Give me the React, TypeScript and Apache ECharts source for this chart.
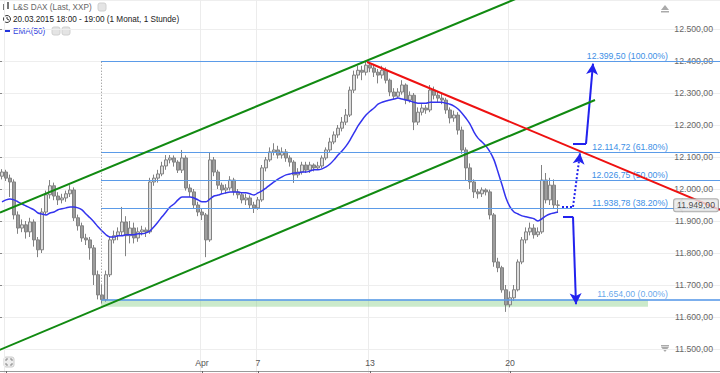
import React, { useEffect, useRef } from "react";
import * as echarts from "echarts";

// ---------- axis / time structure ----------
const tradingDays = ["20.03", "23.03", "24.03", "25.03", "26.03", "27.03", "30.03", "31.03", "01.04", "02.04", "07.04", "08.04", "09.04", "10.04", "13.04", "14.04", "15.04", "16.04", "17.04", "20.04", "21.04", "22.04", "23.04", "24.04", "27.04", "28.04", "29.04"];
const hourSlots = ["08:00", "10:00", "12:00", "14:00", "16:00", "18:00", "20:00"];
const firstDaySlots = ["20:00"];
const slotCount = 180;
const dayLabels: Record<string, string> = { "23.03 08:00": "", "01.04 08:00": "Apr", "07.04 08:00": "7", "13.04 08:00": "13", "20.04 08:00": "20" };
const yRange = { min: 11400, max: 12590.6, step: 100 };

// ---------- candles (2h) ----------
const opens = [12040, 12053, 12034, 12022, 11919, 11878, 11888, 11866, 11897, 11841, 11810, 11928, 11982, 12010, 11978, 11966, 11972, 11985, 11997, 11910, 11885, 11847, 11841, 11816, 11732, 11669, 11654, 11732, 11841, 11854, 11866, 11897, 11854, 11878, 11847, 11866, 11872, 11866, 12022, 12034, 12047, 12072, 12091, 12097, 12084, 12059, 12097, 12003, 11991, 11950, 11928, 11919, 11841, 12091, 12053, 12012, 11997, 12003, 12028, 11991, 11982, 11966, 11972, 11950, 11941, 11966, 12066, 12091, 12116, 12122, 12106, 12116, 12097, 12084, 12044, 12053, 12075, 12059, 12075, 12066, 12072, 12097, 12122, 12147, 12169, 12190, 12209, 12231, 12309, 12356, 12371, 12365, 12387, 12378, 12365, 12356, 12371, 12340, 12303, 12290, 12303, 12325, 12278, 12293, 12209, 12240, 12253, 12247, 12309, 12293, 12284, 12278, 12247, 12222, 12231, 12184, 12122, 12066, 12022, 11991, 11985, 11997, 11991, 11919, 11772, 11754, 11685, 11638, 11660, 11685, 11772, 11841, 11866, 11878, 11857, 11866, 12028, 11966, 12012, 11950];
const closes = [12053, 12034, 12022, 11919, 11878, 11888, 11866, 11897, 11841, 11810, 11928, 11982, 12010, 11978, 11966, 11972, 11985, 11997, 11910, 11885, 11847, 11841, 11816, 11732, 11669, 11654, 11732, 11841, 11854, 11866, 11897, 11854, 11878, 11847, 11866, 11872, 11866, 12022, 12034, 12047, 12072, 12091, 12097, 12084, 12059, 12097, 12003, 11991, 11950, 11928, 11919, 11841, 12091, 12053, 12012, 11997, 12003, 12028, 11991, 11982, 11966, 11972, 11950, 11941, 11966, 12066, 12091, 12116, 12122, 12106, 12116, 12097, 12084, 12044, 12053, 12075, 12059, 12075, 12066, 12072, 12097, 12122, 12147, 12169, 12190, 12209, 12231, 12309, 12356, 12371, 12365, 12387, 12378, 12365, 12356, 12371, 12340, 12303, 12290, 12303, 12325, 12278, 12293, 12209, 12240, 12253, 12247, 12309, 12293, 12284, 12278, 12247, 12222, 12231, 12184, 12122, 12066, 12022, 11991, 11985, 11997, 11991, 11919, 11772, 11754, 11685, 11638, 11660, 11685, 11772, 11841, 11866, 11878, 11857, 11866, 12028, 11966, 12012, 11950, 11949];
const lows = [12030, 12025, 11975, 11905, 11860, 11865, 11845, 11850, 11820, 11787, 11800, 11920, 11970, 11965, 11950, 11955, 11960, 11975, 11900, 11870, 11835, 11825, 11779, 11700, 11655, 11642, 11648, 11725, 11830, 11840, 11855, 11790, 11830, 11830, 11835, 11855, 11850, 11860, 12010, 12020, 12040, 12060, 12080, 12070, 12050, 12050, 11995, 11975, 11940, 11915, 11903, 11787, 11835, 12040, 12000, 11985, 11985, 11995, 11980, 11970, 11955, 11950, 11940, 11925, 11935, 11960, 12055, 12085, 12105, 12095, 12095, 12085, 12070, 12019, 12035, 12045, 12050, 12050, 12055, 12060, 12065, 12090, 12115, 12140, 12160, 12180, 12200, 12225, 12300, 12345, 12340, 12355, 12365, 12350, 12330, 12345, 12330, 12290, 12280, 12285, 12295, 12265, 12270, 12184, 12200, 12230, 12235, 12240, 12280, 12270, 12265, 12235, 12205, 12210, 12170, 12110, 12025, 12000, 11972, 11970, 11975, 11980, 11905, 11757, 11740, 11676, 11616, 11630, 11650, 11680, 11765, 11830, 11855, 11845, 11850, 11860, 11955, 11950, 11940, 11925];
const highs = [12062, 12060, 12045, 12030, 11930, 11905, 11900, 11910, 11905, 11850, 11940, 11995, 12028, 12020, 11990, 11985, 11995, 12012, 12005, 11920, 11895, 11860, 11850, 11825, 11745, 11700, 11745, 11850, 11870, 11880, 11944, 11915, 11900, 11895, 11880, 11885, 11880, 12035, 12045, 12060, 12085, 12106, 12106, 12105, 12090, 12122, 12105, 12015, 12000, 11960, 11940, 11925, 12113, 12100, 12060, 12020, 12015, 12040, 12035, 12000, 11990, 11985, 11980, 11960, 11975, 12075, 12100, 12130, 12143, 12135, 12130, 12125, 12105, 12090, 12065, 12085, 12085, 12085, 12080, 12085, 12105, 12130, 12160, 12180, 12200, 12225, 12250, 12320, 12370, 12385, 12385, 12399.5, 12395, 12390, 12375, 12385, 12380, 12345, 12315, 12315, 12340, 12330, 12305, 12300, 12255, 12265, 12262, 12325, 12320, 12305, 12300, 12285, 12255, 12245, 12240, 12195, 12130, 12080, 12030, 12000, 12005, 12002, 11998, 11925, 11785, 11760, 11700, 11680, 11700, 11780, 11850, 11880, 11895, 11890, 11880, 12075, 12050, 12035, 12030, 11965];

// ---------- EMA(50) ----------
const ema50 = [11960, 11966, 11969, 11966, 11960, 11953, 11947, 11941, 11935, 11925, 11922, 11919, 11925, 11928, 11935, 11938, 11941, 11944, 11944, 11941, 11935, 11922, 11910, 11897, 11882, 11869, 11857, 11850, 11850, 11854, 11854, 11857, 11857, 11857, 11860, 11860, 11863, 11869, 11882, 11897, 11913, 11928, 11944, 11953, 11966, 11975, 11975, 11975, 11972, 11966, 11960, 11960, 11969, 11978, 11981, 11985, 11988, 11991, 11991, 11991, 11988, 11988, 11985, 11981, 11988, 11994, 12003, 12013, 12022, 12031, 12038, 12044, 12047, 12050, 12050, 12053, 12053, 12056, 12060, 12060, 12063, 12069, 12078, 12091, 12106, 12119, 12134, 12153, 12175, 12197, 12215, 12231, 12243, 12253, 12265, 12271, 12275, 12278, 12281, 12284, 12281, 12278, 12275, 12271, 12268, 12268, 12268, 12271, 12271, 12271, 12271, 12268, 12265, 12259, 12250, 12237, 12221, 12203, 12178, 12159, 12147, 12134, 12116, 12091, 12053, 12013, 11972, 11944, 11928, 11922, 11916, 11913, 11910, 11907, 11900, 11907, 11916, 11922, 11925, 11928];

// ---------- annotations (slot index, price) ----------
const upperChannel = [[-0.5, 11926], [135, 12628]];
const lowerChannel = [[-1, 11495], [148.25, 12278]];
const resistance = [[91.25, 12397], [179.5, 11935]];
const fibStart = 24.75;
const fibLevels = [11654, 11938.78, 12026.75, 12114.72, 12399.5];
const fibPercents = ["0.00%", "38.20%", "50.00%", "61.80%", "100.00%"];
const supportZone = [11654, 11632];
const supportZoneEnd = 161.5;
const upArrow = [[142.75, 12141], [146, 12141], [147.75, 12392]];
const dottedArrow = [[140, 11944], [142.75, 11944], [144.5, 12112]];
const downArrow = [[140.25, 11913], [142.75, 11913], [143.5, 11640]];
const lastPrice = 11949;
const lastPriceTagSlot = 169.4;

const FONT = "Liberation Sans, Arial, sans-serif";

const fmt = (v: number) => {
  const s = v.toFixed(2);
  const [i, d] = s.split(".");
  return i.replace(/\B(?=(\d{3})+(?!\d))/g, ".") + "," + d;
};

export default function App() {
  const ref = useRef<HTMLDivElement>(null);
  useEffect(() => {
    if (!ref.current) return;
    const chart = echarts.init(ref.current, undefined, { renderer: "svg" });

    const categories: string[] = [];
    tradingDays.forEach((d, k) => {
      (k === 0 ? firstDaySlots : hourSlots).forEach((h) => categories.push(`${d} ${h}`));
    });
    const cats = categories.slice(0, slotCount);
    const isMark = (_i: number, v: string) => Object.prototype.hasOwnProperty.call(dayLabels, v);

    const candleData = opens.map((o, i) => [o, closes[i], lows[i], highs[i]]);

    const fibBlue = "#5b9be8";
    const fibLines = fibLevels.map((lv, k) => [
      {
        coord: [fibStart, lv],
        symbol: "none",
        lineStyle: { color: fibBlue, width: k === 0 ? 2 : 1, type: "solid", opacity: k === 0 ? 0.8 : 1 },
        label: {
          show: true,
          position: "insideEndTop",
          formatter: `${fmt(lv)} (${fibPercents[k]})`,
          color: "#3d8fe6",
          fontSize: 8.7,
          fontFamily: FONT,
          distance: [52, 1],
        },
      },
      { coord: [179.5, lv], symbol: "none" },
    ]);

    const arrowLines = (pts: number[][], dotted: boolean) => [
      [
        { coord: pts[0], symbol: "none", lineStyle: { color: "#2222ee", width: 2, type: dotted ? "dotted" : "solid" }, label: { show: false } },
        { coord: pts[1], symbol: "none" },
      ],
      [
        { coord: pts[1], symbol: "none", lineStyle: { color: "#2222ee", width: 2, type: dotted ? "dotted" : "solid" }, label: { show: false } },
        { coord: pts[2], symbol: "arrow", symbolSize: [9, 11] },
      ],
    ];

    const lineSeries = (name: string, data: number[][], color: string, width: number, extra: any = {}) => ({
      name,
      type: "line",
      xAxisIndex: 1,
      yAxisIndex: 0,
      data,
      symbol: "none",
      silent: true,
      clip: true,
      lineStyle: { color, width },
      z: 5,
      ...extra,
    });

    const option: any = {
      animation: false,
      backgroundColor: "#ffffff",
      textStyle: { fontFamily: FONT },
      grid: { left: 0, right: 0, top: 0, bottom: 0, containLabel: false },
      xAxis: [
        {
          type: "category",
          data: cats,
          boundaryGap: true,
          offset: -10,
          axisLine: { show: true, lineStyle: { color: "#9a9a9a", width: 1 } },
          axisTick: { show: true, interval: isMark, alignWithLabel: true, length: 3, lineStyle: { color: "#666" } },
          axisLabel: {
            show: true,
            inside: true,
            interval: isMark,
            formatter: (v: string) => dayLabels[v] ?? "",
            color: "#555",
            fontSize: 8.7,
            margin: 4,
          },
          splitLine: { show: true, interval: isMark, lineStyle: { color: "#ececec", width: 1 } },
        },
        { type: "value", min: -0.5, max: slotCount - 0.5, show: false },
      ],
      yAxis: [
        {
          type: "value",
          position: "right",
          min: yRange.min,
          max: yRange.max,
          interval: yRange.step,
          axisLine: { show: false },
          axisTick: { show: true, inside: true, length: 4, lineStyle: { color: "#888" } },
          axisLabel: {
            inside: true,
            margin: 7,
            color: "#666",
            fontSize: 8.7,
            showMinLabel: false,
            showMaxLabel: false,
            formatter: (v: number) => (v <= yRange.min || v % yRange.step !== 0 ? "" : fmt(v)),
          },
          splitLine: { show: true, lineStyle: { color: "#eeeeee", width: 1 } },
        },
      ],
      series: [
        {
          name: "L&S DAX",
          type: "candlestick",
          xAxisIndex: 0,
          yAxisIndex: 0,
          data: candleData,
          barWidth: 3,
          itemStyle: { color: "#dcdcdc", color0: "#9c9c9c", borderColor: "#828282", borderColor0: "#828282", borderWidth: 1 },
          z: 3,
        },
        {
          name: "EMA(50)",
          type: "line",
          xAxisIndex: 0,
          yAxisIndex: 0,
          data: ema50,
          symbol: "none",
          smooth: 0.3,
          lineStyle: { color: "#3333ee", width: 1.5 },
          z: 4,
        },
        lineSeries("Trendkanal oben", upperChannel, "#118a11", 2),
        lineSeries("Trendkanal unten", lowerChannel, "#118a11", 2, {
          markArea: {
            silent: true,
            itemStyle: { color: "rgba(130, 205, 130, 0.42)" },
            data: [[{ coord: [fibStart, supportZone[0]] }, { coord: [supportZoneEnd, supportZone[1]] }]],
          },
          markLine: {
            silent: true,
            symbol: "none",
            animation: false,
            data: [
              ...fibLines,
              [
                { coord: [fibStart, fibLevels[0]], symbol: "none", lineStyle: { color: "#888", width: 1, type: [1, 2] }, label: { show: false } },
                { coord: [fibStart, fibLevels[4]], symbol: "none" },
              ],
              ...arrowLines(upArrow, false),
              ...arrowLines(dottedArrow, true),
              ...arrowLines(downArrow, false),
            ],
          },
        }),
        lineSeries("Widerstand", resistance, "#ee1111", 2),
        {
          name: "Kurs-Pfeil",
          type: "scatter",
          xAxisIndex: 1,
          yAxisIndex: 0,
          data: [[lastPriceTagSlot, lastPrice]],
          symbol: "triangle",
          symbolRotate: 90,
          symbolSize: [12, 5],
          itemStyle: { color: "#e8e8e8", borderColor: "#9a9a9a", borderWidth: 1 },
          silent: true,
          z: 9,
        },
        {
          name: "Kurs",
          type: "scatter",
          xAxisIndex: 1,
          yAxisIndex: 0,
          data: [[slotCount - 0.5, lastPrice]],
          symbolSize: 0,
          silent: true,
          z: 10,
          label: {
            show: true,
            position: "left",
            distance: 2,
            formatter: fmt(lastPrice),
            color: "#222",
            fontSize: 8.7,
            backgroundColor: "#e8e8e8",
            borderColor: "#9a9a9a",
            borderWidth: 1,
            borderRadius: 2,
            padding: [2, 3, 1, 3],
          },
        },
      ],
      graphic: [
        // header
        { type: "rect", shape: { x: 3, y: 4, width: 2, height: 6 }, style: { fill: "#777" } },
        { type: "rect", shape: { x: 7, y: 2, width: 2, height: 7 }, style: { fill: "#777" } },
        { type: "text", x: 13, y: 7, style: { text: "L&S DAX (Last, XXP)", fill: "#666", font: `8.2px ${FONT}`, textVerticalAlign: "middle" } },
        { type: "rect", shape: { x: 98, y: 3, width: 8, height: 8, r: 2 }, style: { fill: "#e4e4e4", stroke: "#d0d0d0" } },
        { type: "circle", shape: { cx: 7, cy: 19, r: 3.5 }, style: { fill: "none", stroke: "#333", lineWidth: 1 } },
        { type: "polyline", shape: { points: [[7, 17], [7, 19], [9, 20]] }, style: { stroke: "#333", lineWidth: 1, fill: "none" } },
        { type: "text", x: 13, y: 19, style: { text: "20.03.2015 18:00 - 19:00 (1 Monat, 1 Stunde)", fill: "#222", font: `8.2px ${FONT}`, textVerticalAlign: "middle" } },
        { type: "line", shape: { x1: 4, y1: 31, x2: 10, y2: 31 }, style: { stroke: "#2233dd", lineWidth: 2 } },
        { type: "text", x: 13, y: 31, style: { text: "EMA(50)", fill: "#3344dd", font: `8.2px ${FONT}`, textVerticalAlign: "middle" } },
        { type: "rect", shape: { x: 52, y: 27, width: 8, height: 8, r: 2 }, style: { fill: "#e4e4e4", stroke: "#d0d0d0" } },
        { type: "rect", shape: { x: 62, y: 27, width: 8, height: 8, r: 2 }, style: { fill: "#e4e4e4", stroke: "#d0d0d0" } },
        // scroll icons
        { type: "polygon", shape: { points: [[661, 10], [669, 10], [665, 5]] }, style: { fill: "#aaa" } },
        { type: "rect", shape: { x: 661, y: 11, width: 8, height: 1.5 }, style: { fill: "#aaa" } },
        { type: "rect", shape: { x: 661, y: 345, width: 8, height: 1.5 }, style: { fill: "#aaa" } },
        { type: "polygon", shape: { points: [[661, 347], [669, 347], [665, 352]] }, style: { fill: "#aaa" } },
        // fullscreen icon
        { type: "rect", shape: { x: 4, y: 357, width: 10, height: 10, r: 2 }, style: { fill: "#eeeeee", stroke: "#cccccc" } },
        { type: "polyline", shape: { points: [[6, 361], [6, 359], [8, 359]] }, style: { stroke: "#888", fill: "none", lineWidth: 1 } },
        { type: "polyline", shape: { points: [[10, 359], [12, 359], [12, 361]] }, style: { stroke: "#888", fill: "none", lineWidth: 1 } },
        { type: "polyline", shape: { points: [[6, 363], [6, 365], [8, 365]] }, style: { stroke: "#888", fill: "none", lineWidth: 1 } },
        { type: "polyline", shape: { points: [[10, 365], [12, 365], [12, 363]] }, style: { stroke: "#888", fill: "none", lineWidth: 1 } },
      ],
    };
    chart.setOption(option);
    return () => chart.dispose();
  }, []);
  return <div ref={ref} style={{ position: "fixed", left: 0, top: 0, width: 720, height: 381 }} />;
}
